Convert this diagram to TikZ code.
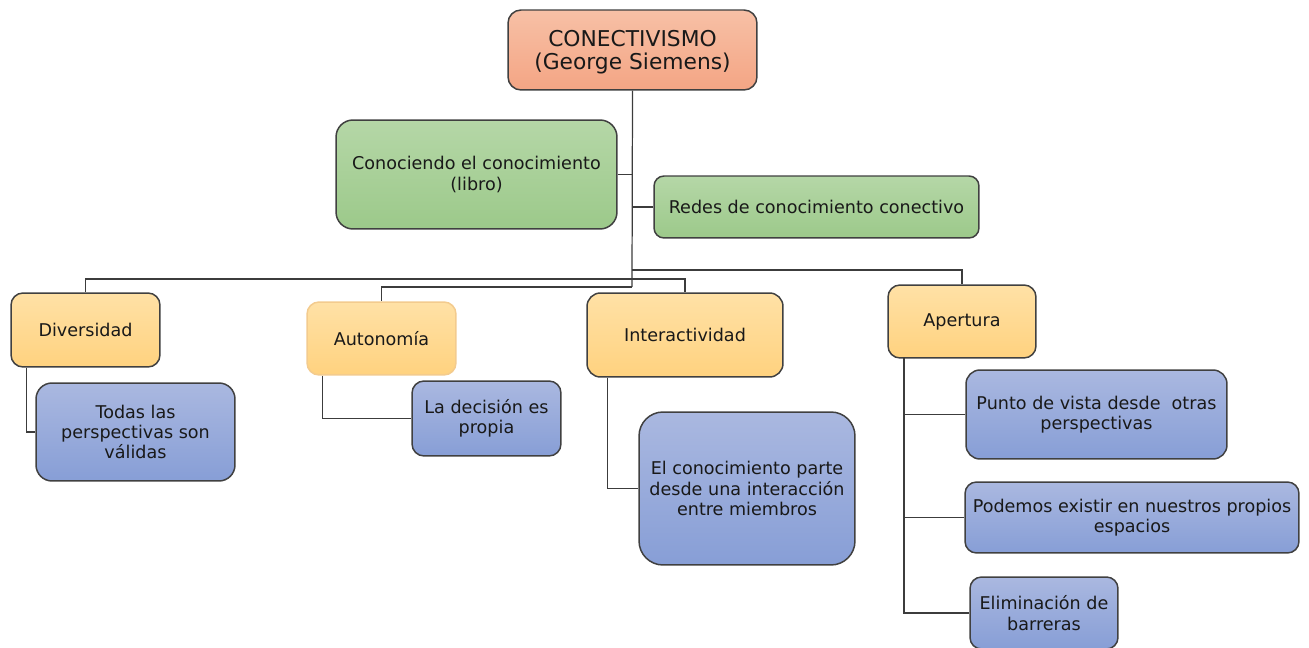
\documentclass[tikz,border=0pt]{standalone}
\usepackage{fontspec}
\setmainfont{DejaVu Sans}
\usepackage{xcolor}
\usepackage{tikz}
\usetikzlibrary{positioning}
\definecolor{csalmonA}{HTML}{F7C0A6}
\definecolor{csalmonB}{HTML}{F4A584}
\definecolor{cverdeA}{HTML}{B5D7A7}
\definecolor{cverdeB}{HTML}{9CC98A}
\definecolor{camarA}{HTML}{FFE1A6}
\definecolor{camarB}{HTML}{FFD27F}
\definecolor{cazulA}{HTML}{AAB8E0}
\definecolor{cazulB}{HTML}{879ED6}
\definecolor{cborde}{HTML}{404040}
\definecolor{clinea}{HTML}{3C3C3C}
\definecolor{cbordeclaro}{HTML}{F3CB8E}
\tikzset{
  caja/.style={rectangle, draw=cborde, line width=0.85pt, align=center,
    inner sep=2pt, text=black!90, font=\fontsize{10}{11.5}\selectfont},
  cajaraiz/.style={caja, top color=csalmonA, bottom color=csalmonB,
    font=\fontsize{12.4}{12}\selectfont},
  cajaverde/.style={caja, top color=cverdeA, bottom color=cverdeB},
  cajaamar/.style={caja, top color=camarA, bottom color=camarB},
  cajaazul/.style={caja, top color=cazulA, bottom color=cazulB},
  linea/.style={draw=clinea, line width=0.7pt},
}

\begin{document}
\begin{tikzpicture}[x=0.02cm, y=-0.02cm]
  \useasboundingbox (0,0) rectangle (1309,648);
  % raiz y libros
  \node[cajaraiz, minimum width=4.98cm, minimum height=1.6cm, rounded corners=0.26cm]
    (raiz) at (632.5,50) {\raisebox{-0.06cm}[\height][\depth]{\begin{tabular}{@{}c@{}}CONECTIVISMO\\(George Siemens)\end{tabular}}};
  \node[cajaverde, minimum width=5.62cm, minimum height=2.18cm, rounded corners=0.34cm]
    (libro) at (476.5,174.5) {Conociendo el conocimiento\\(libro)};
  \node[cajaverde, minimum width=6.5cm, minimum height=1.24cm, rounded corners=0.2cm]
    (redes) at (816.5,207) {Redes de conocimiento conectivo};
  % principios
  \node[cajaamar, minimum width=2.98cm, minimum height=1.48cm, rounded corners=0.24cm]
    (div) at (85.5,330) {Diversidad};
  \node[cajaamar, draw=cbordeclaro, minimum width=2.98cm, minimum height=1.46cm, rounded corners=0.24cm]
    (auto) at (381.5,338.5) {Autonomía};
  \node[cajaamar, minimum width=3.92cm, minimum height=1.68cm, rounded corners=0.27cm]
    (inter) at (685,335) {Interactividad};
  \node[cajaamar, minimum width=2.96cm, minimum height=1.46cm, rounded corners=0.24cm]
    (aper) at (962,321.5) {Apertura};
  % ideas
  \node[cajaazul, minimum width=3.98cm, minimum height=1.96cm, rounded corners=0.32cm]
    (todas) at (135.5,432) {Todas las\\perspectivas son\\válidas};
  \node[cajaazul, minimum width=2.98cm, minimum height=1.5cm, rounded corners=0.24cm]
    (decision) at (486.5,418.5) {La decisión es\\propia};
  \node[cajaazul, minimum width=4.32cm, minimum height=3.06cm, rounded corners=0.48cm]
    (parte) at (747,488.5) {El conocimiento parte\\desde una interacción\\entre miembros};
  \node[cajaazul, minimum width=5.22cm, minimum height=1.78cm, rounded corners=0.28cm]
    (punto) at (1096.5,414.5) {Punto de vista desde\ \ otras\\perspectivas};
  \node[cajaazul, minimum width=6.68cm, minimum height=1.42cm, rounded corners=0.23cm]
    (podemos) at (1132,517.5) {Podemos existir en nuestros propios\\espacios};
  \node[cajaazul, minimum width=2.96cm, minimum height=1.44cm, rounded corners=0.23cm]
    (elim) at (1044,613) {Eliminación de\\barreras};
  % uniones
  \coordinate (j1) at (632,270);
  \coordinate (j2) at (632,279);
  \coordinate (j3) at (632,287);
  \coordinate (ejeaper) at (904,358);
  \draw[linea] (raiz.south) -- (j3);
  \draw[linea] (libro.east) -- (libro.east -| raiz.south);
  \draw[linea] (redes.west) -- (redes.west -| raiz.south);
  \draw[linea] (j1) -| (aper.north);
  \draw[linea] (j2) -| (div.north);
  \draw[linea] (j2) -| (inter.north);
  \draw[linea] (j3) -| (auto.north);
  \draw[linea] (div.south west) ++(16,0) |- (todas.west);
  \draw[linea] (auto.south west) ++(16,0) |- (decision.west);
  \draw[linea] (inter.south west) ++(21,0) |- (parte.west);
  \draw[linea] (ejeaper) |- (elim.west);
  \draw[linea] (punto.west) -- (punto.west -| ejeaper);
  \draw[linea] (podemos.west) -- (podemos.west -| ejeaper);
\end{tikzpicture}
\end{document}
